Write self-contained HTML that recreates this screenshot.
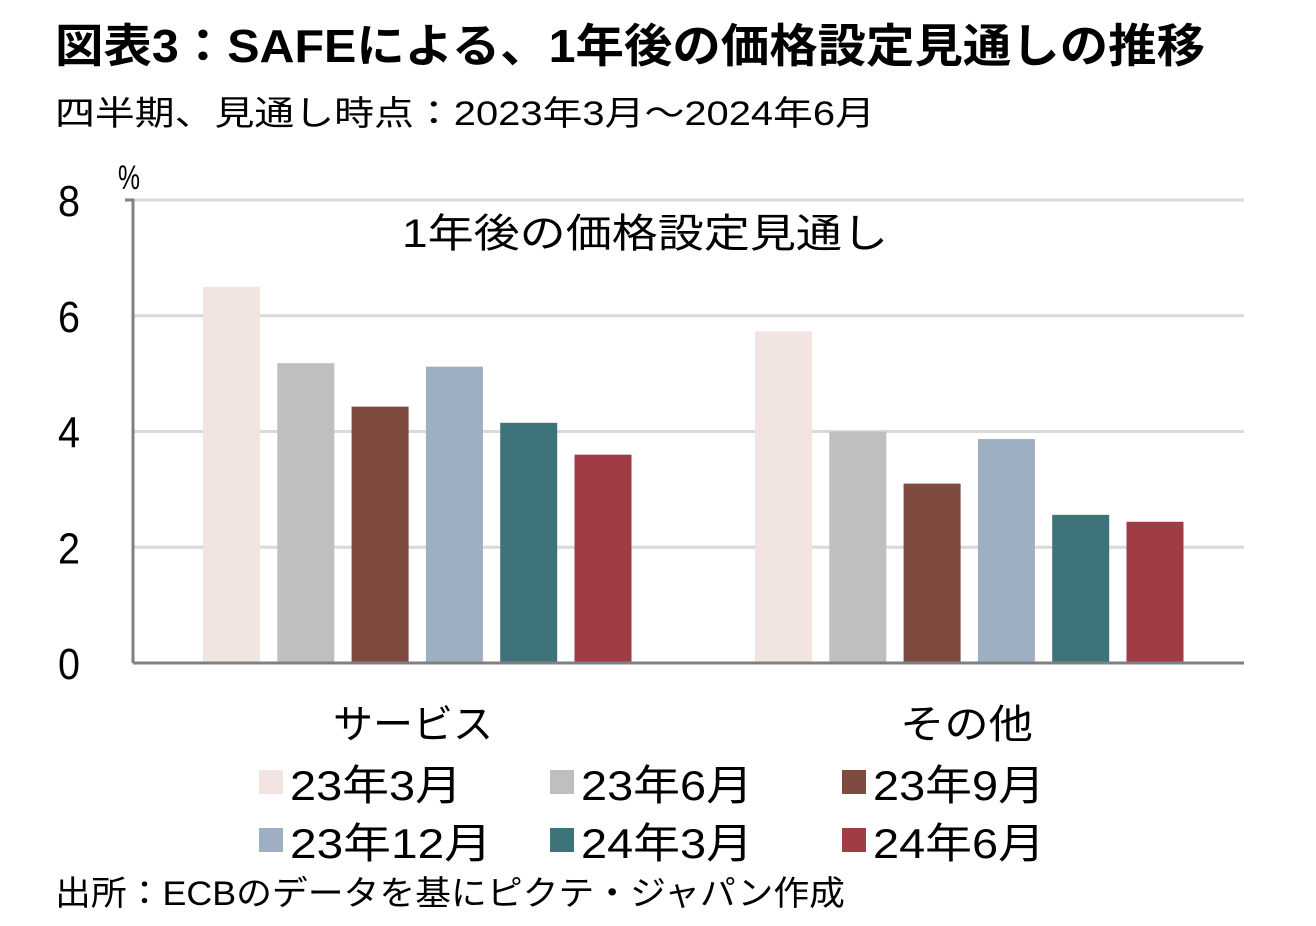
<!DOCTYPE html>
<html><head><meta charset="utf-8"><style>
body{margin:0;background:#fff}
svg{display:block;font-family:"Liberation Sans","Noto Sans CJK JP",sans-serif}
</style></head><body>
<svg id="c" width="1316" height="926" viewBox="0 0 1316 926">
<text x="55" y="62" font-size="46" font-weight="bold" textLength="1150" lengthAdjust="spacingAndGlyphs">図表3：SAFEによる、1年後の価格設定見通しの推移</text>
<text x="55" y="125" font-size="34" textLength="820" lengthAdjust="spacingAndGlyphs">四半期、見通し時点：2023年3月～2024年6月</text>
<text x="118" y="189" font-size="34" textLength="22" lengthAdjust="spacingAndGlyphs">%</text>
<text x="402" y="247" font-size="40" textLength="486" lengthAdjust="spacingAndGlyphs">1年後の価格設定見通し</text>
<g id="grid"></g><g id="bars"></g>
<text x="55" y="905" font-size="34" textLength="790" lengthAdjust="spacingAndGlyphs">出所：ECBのデータを基にピクテ・ジャパン作成</text>
</svg>
<script>
const categories=["サービス","その他"];
const seriesNames=["23年3月","23年6月","23年9月","23年12月","24年3月","24年6月"];
const s0=[6.5,5.73];
const s1=[5.18,4.0];
const s2=[4.43,3.1];
const s3=[5.12,3.87];
const s4=[4.15,2.56];
const s5=[3.6,2.44];
const yTicks=[0,2,4,6,8];
const series=[s0,s1,s2,s3,s4,s5];
const colors=["#f2e4e1","#bfbfbf","#7f4a40","#9eafc4","#3e737a","#a03c44"];
const NS="http://www.w3.org/2000/svg";
const svg=document.getElementById('c');
const y0=663,y8=200;
function yS(v){return y0-(v/8)*(y0-y8);}
function xS(ci,si){return 203+ci*552+si*74.3;}
const grid=document.getElementById('grid');
function mk(tag,attrs,parent){const e=document.createElementNS(NS,tag);for(const k in attrs)e.setAttribute(k,attrs[k]);parent.appendChild(e);return e;}
yTicks.forEach(t=>{
  const y=yS(t);
  if(t>0){const l=mk('line',{x1:133,x2:1244,y1:y,y2:y,stroke:'#d9d9d9','stroke-width':3},grid);
  
  }
  const tx=mk('text',{x:58,y:y+16,'font-size':44,textLength:22,lengthAdjust:'spacingAndGlyphs'},grid);
  tx.textContent=t;
  
  
});
const bars=document.getElementById('bars');
series.forEach((s,si)=>{s.forEach((v,ci)=>{
  const r=mk('rect',{x:xS(ci,si),y:yS(v),width:57,height:y0-yS(v),fill:colors[si]},bars);
  
  
});});
const ax=mk('path',{d:'M125 '+y8+' H133 V'+y0+' M133 '+y0+' H1244',stroke:'#808080','stroke-width':3,fill:'none'},svg);


const catX=[[333,160],[900,133]];
categories.forEach((c,i)=>{
  const t=mk('text',{x:catX[i][0],y:738,'font-size':40,textLength:catX[i][1],lengthAdjust:'spacingAndGlyphs'},svg);
  t.textContent=c;
  
  
});
const colX=[259,550,842];
seriesNames.forEach((n,i)=>{
  const cx=colX[i%3],by=i<3?800:858;
  const g=mk('g',{},svg);
  
  
  mk('rect',{x:cx,y:by-30,width:24,height:24,fill:colors[i]},g);
  const t=mk('text',{x:cx+31,y:by,'font-size':42,textLength:n.length>5?202:172,lengthAdjust:'spacingAndGlyphs'},g);
  t.textContent=n;
});
</script>
</body></html>
